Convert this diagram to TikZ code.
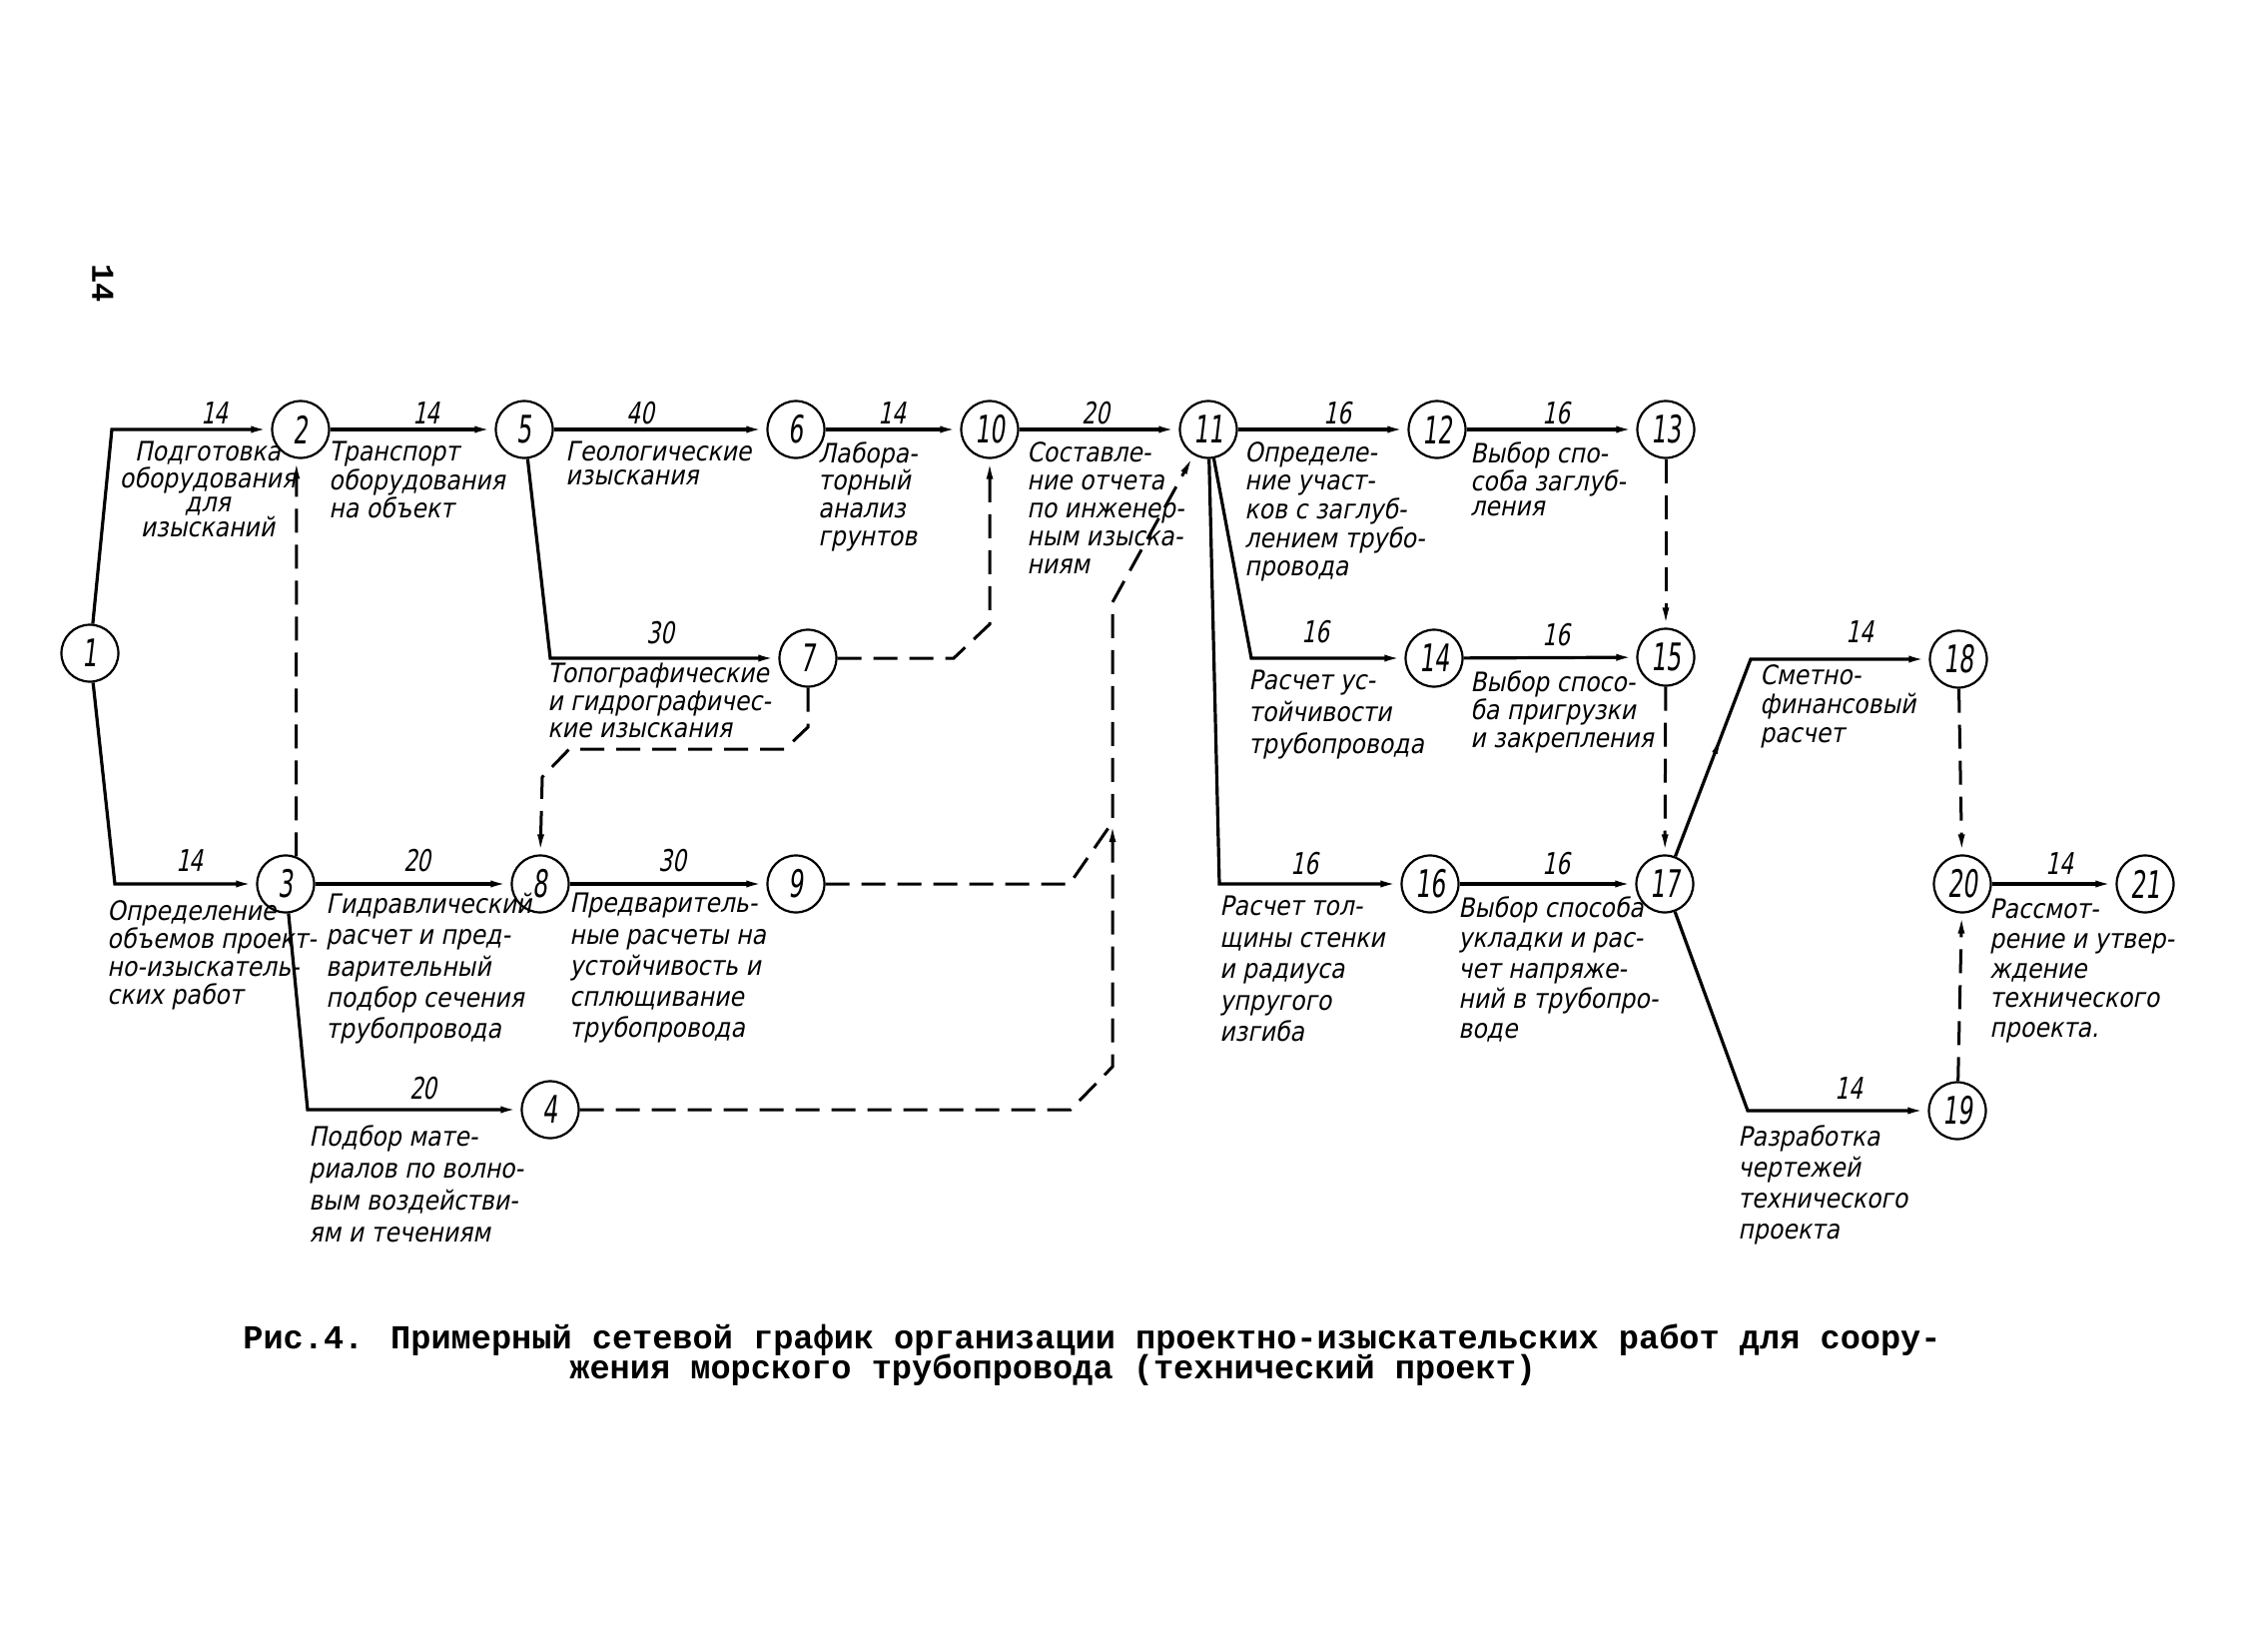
\documentclass[tikz,border=0pt]{standalone}
\usepackage{fontspec}
\usetikzlibrary{arrows.meta,decorations.markings}
\newfontfamily\handfont{DejaVu Sans}[FakeSlant=0.2,FakeStretch=0.88]
\newfontfamily\numfont{DejaVu Sans}[FakeSlant=0.12,FakeStretch=0.62]
\newfontfamily\durfont{DejaVu Sans}[FakeSlant=0.2,FakeStretch=0.72]
\newfontfamily\capfont{Liberation Mono}
\begin{document}
\begin{tikzpicture}[x=0.5pt,y=-0.5pt,
  ev/.style={circle,draw,line width=1.1pt,minimum size=28.5pt,inner sep=0pt,font=\numfont\fontsize{19}{19}\selectfont},
  arr/.style={line width=1.6pt,-{Latex[length=10pt,width=3.4pt]}},
  dum/.style={line width=1.5pt,dash pattern=on 12pt off 6pt,-{Latex[length=10pt,width=3.4pt]}},
  dur/.style={font=\durfont\fontsize{15}{15}\selectfont,inner sep=0pt},
  txt/.style={font=\handfont\fontsize{13.4}{#1}\selectfont,align=left,anchor=north west,inner sep=0pt},
  txt/.default=13,
  midarr/.style={postaction={decorate},decoration={markings,mark=at position 0.6 with {\arrow{Latex[length=8pt,width=3pt]}}}}
]
\useasboundingbox[fill=white] (0,0) rectangle (2245,1654);

% events
\node[ev] (n1) at (90,654) {1};
\node[ev] (n2) at (301,430) {2};
\node[ev] (n3) at (286,885) {3};
\node[ev] (n4) at (551,1111) {4};
\node[ev] (n5) at (525,430) {5};
\node[ev] (n6) at (797,430) {6};
\node[ev] (n7) at (809,659) {7};
\node[ev] (n8) at (541,885) {8};
\node[ev] (n9) at (797,885) {9};
\node[ev] (n10) at (991,430) {10};
\node[ev] (n11) at (1210,430) {11};
\node[ev] (n12) at (1439,430) {12};
\node[ev] (n13) at (1668,430) {13};
\node[ev] (n14) at (1436,659) {14};
\node[ev] (n15) at (1668,658) {15};
\node[ev] (n16) at (1432,885) {16};
\node[ev] (n17) at (1667,885) {17};
\node[ev] (n18) at (1961,660) {18};
\node[ev] (n19) at (1960,1112) {19};
\node[ev] (n20) at (1965,885) {20};
\node[ev] (n21) at (2148,885) {21};

% corners
\coordinate (c12) at (112,430);
\coordinate (c13) at (115,885);
\coordinate (c34) at (308,1111);
\coordinate (c57) at (551,659);
\coordinate (c1114) at (1253,659);
\coordinate (c1116) at (1221,885);
\coordinate (c1718) at (1753,660);
\coordinate (c1719) at (1750,1112);
\coordinate (J) at (1114,823);

% solid activities
\draw[arr] (n1) -- (c12) -- (n2);
\draw[arr] (n1) -- (c13) -- (n3);
\draw[arr] (n2) -- (n5);
\draw[arr] (n5) -- (n6);
\draw[arr] (n5) -- (c57) -- (n7);
\draw[arr] (n6) -- (n10);
\draw[arr] (n10) -- (n11);
\draw[arr] (n11) -- (n12);
\draw[arr] (n12) -- (n13);
\draw[arr] (n11) -- (c1114) -- (n14);
\draw[arr] (n11) -- (c1116) -- (n16);
\draw[arr] (n14) -- (n15);
\draw[arr] (n16) -- (n17);
\draw[arr] (n3) -- (n8);
\draw[arr] (n8) -- (n9);
\draw[arr] (n3) -- (c34) -- (n4);
\draw[arr] (n17) -- (c1718) -- (n18);
\path[midarr] (n17) -- (c1718);
\draw[arr] (n17) -- (c1719) -- (n19);
\draw[arr] (n20) -- (n21);

% dummy activities
\draw[dum] (n3.69) -- (n2.-98);
\draw[dum] (n7.east) -- (955,659) -- (991,625) -- (n10.south);
\draw[dum] (n7.south) -- (809,728) -- (786,750) -- (570,750) -- (543,778) -- (n8.north);
\draw[dum] (n4.east) -- (1072,1111) -- (1114,1068) -- (J);
\draw[dum] (n9.east) -- (1071,885) -- (J) -- (1114,603) -- (n11.240);
\draw[dum] (n13) -- (n15);
\draw[dum] (n15) -- (n17);
\draw[dum] (n18) -- (n20);
\draw[dum] (n19) -- (n20);

% durations
\node[dur] (d12) at (215,414) {14};
\node[dur] (d25) at (427,414) {14};
\node[dur] (d56) at (641,414) {40};
\node[dur] (d610) at (893,414) {14};
\node[dur] (d1011) at (1097,414) {20};
\node[dur] (d1112) at (1339,414) {16};
\node[dur] (d1213) at (1558,414) {16};
\node[dur] (d57) at (661,634) {30};
\node[dur] (d1114) at (1317,633) {16};
\node[dur] (d1415) at (1558,636) {16};
\node[dur] (d1718) at (1862,633) {14};
\node[dur] (d13) at (190,862) {14};
\node[dur] (d38) at (418,862) {20};
\node[dur] (d89) at (673,862) {30};
\node[dur] (d1116) at (1306,865) {16};
\node[dur] (d1617) at (1558,865) {16};
\node[dur] (d2021) at (2062,865) {14};
\node[dur] (d34) at (424,1090) {20};
\node[dur] (d1719) at (1851,1090) {14};

% activity texts
\node[txt=12.2,align=center,anchor=north] (t12) at (208,442) {Подготовка\\оборудования\\для\\изысканий};
\node[txt=12] (t25) at (329,442) {Транспорт\\оборудования\\на объект};
\node[txt=12] (t56) at (566,442) {Геологические\\изыскания};
\node[txt=13.8] (t610) at (819,442) {Лабора-\\торный\\анализ\\грунтов};
\node[txt=14] (t1011) at (1028,442) {Составле-\\ние отчета\\по инженер-\\ным изыска-\\ниям};
\node[txt=14.3] (t1112) at (1246,442) {Определе-\\ние участ-\\ков с заглуб-\\лением трубо-\\провода};
\node[txt=12.5] (t1213) at (1472,442) {Выбор спо-\\соба заглуб-\\ления};
\node[txt=13.6] (t57) at (548,664) {Топографические\\и гидрографичес-\\кие изыскания};
\node[txt=16] (t1114) at (1250,671) {Расчет ус-\\тойчивости\\трубопровода};
\node[txt=14] (t1415) at (1472,671) {Выбор спосо-\\ба пригрузки\\и закрепления};
\node[txt=14.5] (t1718) at (1762,665) {Сметно-\\финансовый\\расчет};
\node[txt=14] (t13) at (107,901) {Определение\\объемов проект-\\но-изыскатель-\\ских работ};
\node[txt=15.6] (t38) at (326,894) {Гидравлический\\расчет и пред-\\варительный\\подбор сечения\\трубопровода};
\node[txt=15.6] (t89) at (570,894) {Предваритель-\\ные расчеты на\\устойчивость и\\сплющивание\\трубопровода};
\node[txt=16] (t34) at (309,1126) {Подбор мате-\\риалов по волно-\\вым воздействи-\\ям и течениям};
\node[txt=15.7] (t1116) at (1221,897) {Расчет тол-\\щины стенки\\и радиуса\\упругого\\изгиба};
\node[txt=15.2] (t1617) at (1460,897) {Выбор способа\\укладки и рас-\\чет напряже-\\ний в трубопро-\\воде};
\node[txt=15.5] (t1719) at (1740,1126) {Разработка\\чертежей\\технического\\проекта};
\node[txt=14.8] (t2021) at (1992,900) {Рассмот-\\рение и утвер-\\ждение\\технического\\проекта.};

% page number and caption
\node[rotate=-90,inner sep=0pt,font=\capfont\bfseries\fontsize{16}{16}\selectfont] (pg) at (103,284) {14};
\node[anchor=west,inner sep=0pt,font=\capfont\bfseries\fontsize{16.8}{16.8}\selectfont] (cap1) at (243,1342) {Рис.4. Примерный сетевой график организации проектно-изыскательских работ для соору-};
\node[anchor=west,inner sep=0pt,font=\capfont\bfseries\fontsize{16.8}{16.8}\selectfont] (cap2) at (570,1372) {жения морского трубопровода (технический проект)};
\end{tikzpicture}
\end{document}
